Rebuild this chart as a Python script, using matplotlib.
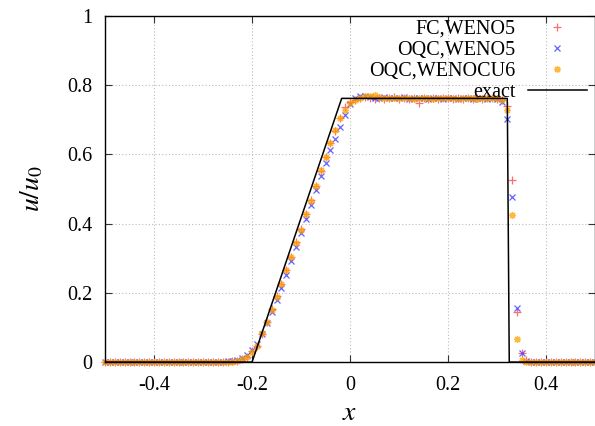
import matplotlib
matplotlib.use('Agg')
import matplotlib.pyplot as plt
import matplotlib.ticker as ticker
import numpy as np

plt.rcParams['font.family'] = ['Liberation Serif', 'DejaVu Serif']
plt.rcParams['mathtext.fontset'] = 'stix'
plt.rcParams['axes.unicode_minus'] = False

# ── Data ─────────────────────────────────────────────────────────────────────
x_grid = np.round(np.arange(-0.5, 0.5001, 0.01), 2)

fc_weno5 = [
    0, 0, 0, 0, 0, 0, 0, 0, 0, 0,
    0, 0, 0, 0, 0, 0, 0, 0, 0, 0,
    0, 0, 0, 0, 0, 0, 0.002, 0.004, 0.008, 0.015,
    0.032, 0.047, 0.082, 0.117, 0.152, 0.190, 0.226, 0.266, 0.305, 0.346,
    0.385, 0.428, 0.468, 0.510, 0.552, 0.592, 0.632, 0.668, 0.705, 0.738,
    0.752, 0.758, 0.762, 0.765, 0.763, 0.761, 0.764, 0.760, 0.762, 0.765,
    0.761, 0.763, 0.760, 0.764, 0.748, 0.762, 0.761, 0.763, 0.760, 0.762,
    0.763, 0.761, 0.762, 0.760, 0.763, 0.761, 0.762, 0.761, 0.763, 0.762,
    0.761, 0.758, 0.740, 0.526, 0.144, 0.025, 0.005, 0, 0, 0,
    0, 0, 0, 0, 0, 0, 0, 0, 0, 0, 0,
]

oqc_weno5 = [
    0, 0, 0, 0, 0, 0, 0, 0, 0, 0,
    0, 0, 0, 0, 0, 0, 0, 0, 0, 0,
    0, 0, 0, 0, 0, 0.002, 0.004, 0.007, 0.012, 0.020,
    0.036, 0.052, 0.080, 0.112, 0.145, 0.179, 0.214, 0.252, 0.292, 0.333,
    0.373, 0.414, 0.455, 0.497, 0.538, 0.574, 0.612, 0.646, 0.680, 0.714,
    0.745, 0.764, 0.768, 0.768, 0.766, 0.764, 0.763, 0.765, 0.762, 0.764,
    0.762, 0.765, 0.761, 0.763, 0.762, 0.764, 0.761, 0.763, 0.762, 0.761,
    0.763, 0.762, 0.761, 0.763, 0.762, 0.761, 0.762, 0.763, 0.761, 0.762,
    0.760, 0.752, 0.702, 0.476, 0.157, 0.025, 0.004, 0.001, 0, 0,
    0, 0, 0, 0, 0, 0, 0, 0, 0, 0, 0,
]

oqc_wenocu6 = [
    0, 0, 0, 0, 0, 0, 0, 0, 0, 0,
    0, 0, 0, 0, 0, 0, 0, 0, 0, 0,
    0, 0, 0, 0, 0, 0, 0.001, 0.003, 0.008, 0.014,
    0.030, 0.046, 0.083, 0.116, 0.150, 0.189, 0.225, 0.265, 0.304, 0.345,
    0.383, 0.427, 0.466, 0.509, 0.555, 0.593, 0.632, 0.672, 0.704, 0.728,
    0.748, 0.758, 0.762, 0.770, 0.768, 0.771, 0.766, 0.764, 0.762, 0.763,
    0.764, 0.762, 0.763, 0.761, 0.762, 0.763, 0.762, 0.761, 0.763, 0.762,
    0.762, 0.763, 0.761, 0.762, 0.763, 0.762, 0.761, 0.762, 0.763, 0.762,
    0.762, 0.758, 0.728, 0.425, 0.068, 0.005, 0, 0, 0, 0,
    0, 0, 0, 0, 0, 0, 0, 0, 0, 0, 0,
]

x_exact = [-0.5, -0.2, -0.017, 0.321, 0.325, 0.5]
u_exact = [0, 0, 0.762, 0.762, 0, 0]

# ── Figure ───────────────────────────────────────────────────────────────────
fig = plt.figure(figsize=(5.95, 4.26), dpi=100)
ax = fig.add_axes([0.1765, 0.150, 0.8235, 0.8124])

ax.plot(x_grid, fc_weno5, linestyle='none', marker='+', color='#ff4a4a', alpha=0.8,
        markersize=6, markeredgewidth=0.9, label='FC,WENO5', clip_on=False)
ax.plot(x_grid, oqc_weno5, linestyle='none', marker='x', color='#3c3cff', alpha=0.8,
        markersize=5, markeredgewidth=0.9, label='OQC,WENO5', clip_on=False)
ax.plot(x_grid, oqc_wenocu6, linestyle='none', marker=(8, 2, 0), color='#ffa000', alpha=0.75,
        markersize=5, markeredgewidth=0.9, label='OQC,WENOCU6', clip_on=False)
ax.plot(x_exact, u_exact, color='black', linewidth=1.1, label='exact')

ax.set_xlim(-0.5, 0.5)
ax.set_ylim(0, 1)
ax.xaxis.set_major_locator(ticker.MultipleLocator(0.2))
ax.yaxis.set_major_locator(ticker.MultipleLocator(0.2))
ax.xaxis.set_major_formatter(ticker.FuncFormatter(lambda v, _: f'{v:g}' if abs(v) > 1e-9 else '0'))
ax.yaxis.set_major_formatter(ticker.FuncFormatter(lambda v, _: f'{v:g}'))
ax.tick_params(direction='in', length=5, width=0.8, top=True, right=True,
               labelsize=14.5, color='#333333')
ax.tick_params(axis='x', pad=10)
ax.tick_params(axis='y', pad=9)
ax.grid(True, color='#bbbbbb', linestyle=(0, (1, 2)), linewidth=0.8)
for s in ax.spines.values():
    s.set_linewidth(1.0)

ax.set_xlabel(r'$x$', fontsize=20, labelpad=4)
ax.set_ylabel(r'$u/u_0$', fontsize=20, labelpad=16)

leg = ax.legend(loc='upper right', bbox_to_anchor=(0.983, 0.99), frameon=False,
                markerfirst=False, numpoints=1, fontsize=14.5, handlelength=2.9,
                handletextpad=0.65, labelspacing=0.1, borderaxespad=0,
                borderpad=0)

fig.savefig('out.png', dpi=100)
